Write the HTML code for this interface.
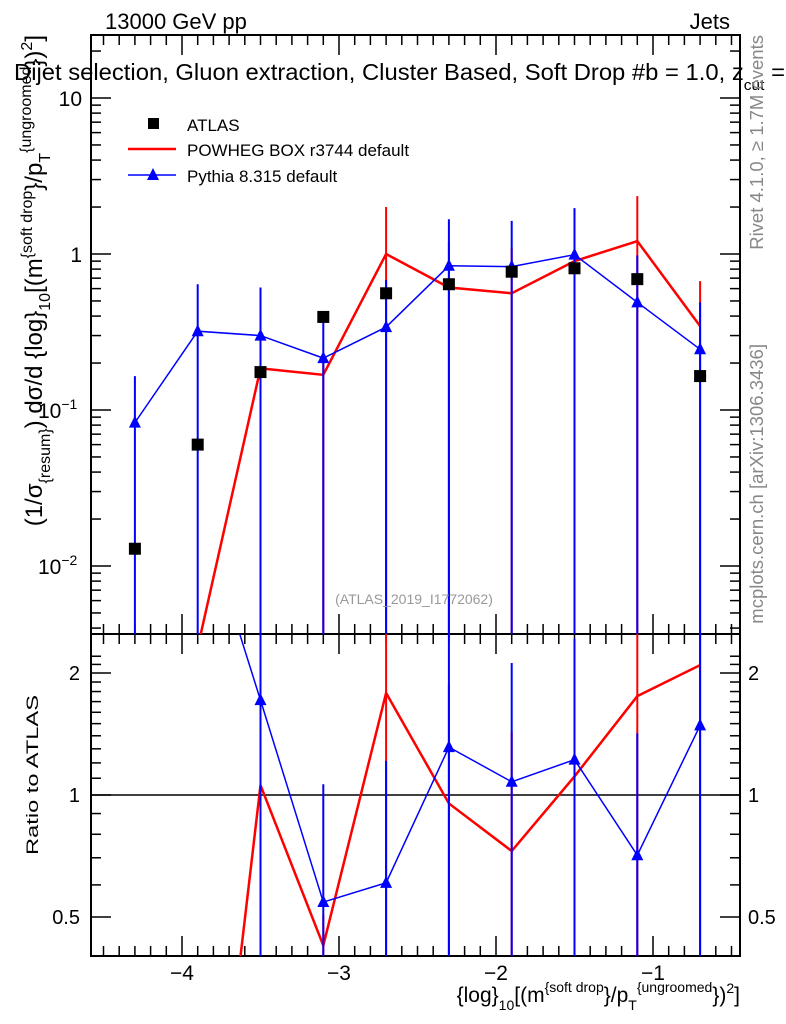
<!DOCTYPE html>
<html><head><meta charset="utf-8">
<style>
html,body{margin:0;padding:0;background:#fff;overflow:hidden;}
svg{display:block;font-family:"Liberation Sans",sans-serif;}
</style></head>
<body>
<svg id="c" width="786" height="1024" viewBox="0 0 786 1024"></svg>
<script>
const xVals=[-4.3,-3.9,-3.5,-3.1,-2.7,-2.3,-1.9,-1.5,-1.1,-0.7];
const atlas=[0.0129,0.06,0.175,0.395,0.56,0.64,0.77,0.81,0.69,0.165];
const powheg=[0.0001,0.003,0.185,0.168,1.0,0.61,0.56,0.9,1.21,0.345];
const powhegUp=[0.0001,0.003,0.37,0.2,2.0,1.2,1.1,1.8,2.35,0.67];
const pythia=[0.083,0.32,0.30,0.215,0.34,0.84,0.83,0.99,0.49,0.245];
const pythiaUp=[0.165,0.64,0.61,0.42,0.68,1.67,1.63,1.97,0.98,0.49];
const xTicks=[-4,-3,-2,-1];
const yTicks=[0.01,0.1,1,10];
const rTicks=[0.5,1,2];

const NS="http://www.w3.org/2000/svg";
const svg=document.getElementById('c');
const L=91,R=740,T=35,MB=634,RB=956;
const X=v=>182+(v+4)*157;
const Y=v=>254-156*Math.log10(v);
const RY=v=>795-122*Math.log2(v);
function el(tag,attrs,parent){const e=document.createElementNS(NS,tag);for(const k in attrs)e.setAttribute(k,attrs[k]);(parent||svg).appendChild(e);return e;}
function txt(s,attrs,parent){const e=el('text',attrs,parent);e.innerHTML=s;return e;}

const defs=el('defs',{});
const cm=el('clipPath',{id:'cm'},defs);el('rect',{x:L,y:T,width:R-L,height:MB-T},cm);
const cr=el('clipPath',{id:'cr'},defs);el('rect',{x:L,y:MB,width:R-L,height:RB-MB},cr);

let t=txt('13000 GeV pp',{x:105,y:29,'font-size':22});

t=txt('Jets',{x:730,y:29,'font-size':22,'text-anchor':'end'});


let f=el('rect',{x:L,y:T,width:R-L,height:MB-T,fill:'none',stroke:'#000','stroke-width':2});

f=el('rect',{x:L,y:MB,width:R-L,height:RB-MB,fill:'none',stroke:'#000','stroke-width':2});


const tk=el('g',{stroke:'#000','stroke-width':1.5});

for(let i=-46;i<=-4;i++){const v=i/10;const x=X(v);if(x<L||x>R)continue;const maj=(i%10===0);const len=maj?20:10;
 [[T,T+len],[MB,MB-len],[MB,MB+len],[RB,RB-len]].forEach(p=>el('line',{x1:x,x2:x,y1:p[0],y2:p[1]},tk));}
xTicks.forEach(v=>{const e=txt('\u2212'+Math.abs(v),{x:X(v),y:980,'font-size':21,'text-anchor':'middle'});
 });
for(let d=-3;d<=1;d++){for(let m=1;m<10;m++){const v=m*Math.pow(10,d);const y=Y(v);if(y<T||y>MB)continue;const len=m===1?20:10;
 el('line',{x1:L,x2:L+len,y1:y,y2:y},tk);el('line',{x1:R,x2:R-len,y1:y,y2:y},tk);}}
yTicks.forEach(v=>{let lab=v===10?'10':v===1?'1':'10<tspan dy="-9" font-size="14">'+(v===0.1?'\u22121':'\u22122')+'</tspan>';
 const e=txt(lab,{x:v>=1?82:38,y:Y(v)+8,'font-size':21,'text-anchor':v>=1?'end':'start'});
 });
for(let v=0.4;v<=2.3;v+=0.1){const vv=Math.round(v*10)/10;const y=RY(vv);if(y<MB||y>RB)continue;const maj=rTicks.includes(vv);const len=maj?20:10;
 el('line',{x1:L,x2:L+len,y1:y,y2:y},tk);el('line',{x1:R,x2:R-len,y1:y,y2:y},tk);}
rTicks.forEach(v=>{[[80,'end'],[748,'start']].forEach(p=>{const e=txt(String(v),{x:p[0],y:RY(v)+7,'font-size':20,'text-anchor':p[1]});
 });});
let ln=el('line',{x1:L,x2:R,y1:RY(1),y2:RY(1),stroke:'#000','stroke-width':1.5});


const gm=el('g',{'clip-path':'url(#cm)'});
const gr=el('g',{'clip-path':'url(#cr)'});
function series(vals,up,color,w,marker,name){
 const g=el('g',{},gm);
 const g2=el('g',{},gr);
 xVals.forEach((x,i)=>{const e=el('line',{x1:X(x),x2:X(x),y1:Y(up[i]),y2:MB+5,stroke:color,'stroke-width':2},g);
  
  if(i<2)return;
  const r=up[i]/atlas[i];const e2=el('line',{x1:X(x),x2:X(x),y1:RY(r),y2:RB+5,stroke:color,'stroke-width':2},g2);
  });
 const p=el('polyline',{points:xVals.map((x,i)=>X(x)+','+Y(vals[i])).join(' '),fill:'none',stroke:color,'stroke-width':w},g);
 
 const p2=el('polyline',{points:xVals.map((x,i)=>X(x)+','+RY(vals[i]/atlas[i])).join(' '),fill:'none',stroke:color,'stroke-width':w},g2);
 
 if(marker){xVals.forEach((x,i)=>{[[g,Y(vals[i])],[g2,RY(vals[i]/atlas[i])]].forEach(q=>{const cx=X(x),cy=q[1];
  const m=el('polygon',{points:`${cx},${cy-7} ${cx-6},${cy+5} ${cx+6},${cy+5}`,fill:color},q[0]);
  });});}
}
series(powheg,powhegUp,'#f00',2.5,false,'powheg');
series(pythia,pythiaUp,'#00f',1.5,true,'pythia');
const ga=el('g',{},gm);
xVals.forEach((x,i)=>{const m=el('rect',{x:X(x)-6,y:Y(atlas[i])-6,width:12,height:12,fill:'#000'},ga);
 });

const lg=el('g',{});
el('rect',{x:148,y:118,width:11,height:11,fill:'#000'},lg);
txt('ATLAS',{x:187,y:131,'font-size':17},lg);
el('line',{x1:128,x2:176,y1:149,y2:149,stroke:'#f00','stroke-width':2.5},lg);
txt('POWHEG BOX r3744 default',{x:187,y:156,'font-size':17},lg);
el('line',{x1:128,x2:176,y1:175,y2:175,stroke:'#00f','stroke-width':1.5},lg);
el('polygon',{points:'153,168 147,180 159,180',fill:'#00f'},lg);
txt('Pythia 8.315 default',{x:187,y:182,'font-size':17},lg);

t=txt('Dijet selection, Gluon extraction, Cluster Based, Soft Drop #b = 1.0, z<tspan dy="10" font-size="15">cut</tspan><tspan dy="-10"> =</tspan>',{x:14,y:80,'font-size':23,textLength:771,lengthAdjust:'spacingAndGlyphs'});

t=txt('(ATLAS_2019_I1772062)',{x:414,y:604,'font-size':14,fill:'#999','text-anchor':'middle'});

t=txt('Rivet 4.1.0, \u2265 1.7M events',{x:0,y:0,'font-size':18.5,fill:'#888','text-anchor':'end',transform:'translate(763,35) rotate(-90)'});

t=txt('mcplots.cern.ch [arXiv:1306.3436]',{x:0,y:0,'font-size':18.5,fill:'#888','text-anchor':'end',transform:'translate(763,344) rotate(-90)'});

t=txt('(1/σ<tspan dy="8" font-size="16">{resum}</tspan><tspan dy="-8">) dσ/d {log}</tspan><tspan dy="8" font-size="16">10</tspan><tspan dy="-8">[(m</tspan><tspan dy="-10" font-size="16">{soft drop</tspan><tspan dy="10">}/p</tspan><tspan dy="8" font-size="16">T</tspan><tspan dy="-19" font-size="16">{ungroomed</tspan><tspan dy="11">})</tspan><tspan dy="-10" font-size="16">2</tspan><tspan dy="10">]</tspan>',{x:0,y:0,'font-size':24,'text-anchor':'end',transform:'translate(42,35) rotate(-90)'});

t=txt('Ratio to ATLAS',{x:0,y:0,'font-size':17,'text-anchor':'start',textLength:160,lengthAdjust:'spacingAndGlyphs',transform:'translate(38,855) rotate(-90)'});

t=txt('{log}<tspan dy="8" font-size="14">10</tspan><tspan dy="-8">[(m</tspan><tspan dy="-10" font-size="14">{soft drop</tspan><tspan dy="10">}/p</tspan><tspan dy="8" font-size="14">T</tspan><tspan dy="-18" font-size="14">{ungroomed</tspan><tspan dy="10">})</tspan><tspan dy="-9" font-size="14">2</tspan><tspan dy="9">]</tspan>',{x:740,y:1002,'font-size':21,'text-anchor':'end'});

</script>
</body></html>
